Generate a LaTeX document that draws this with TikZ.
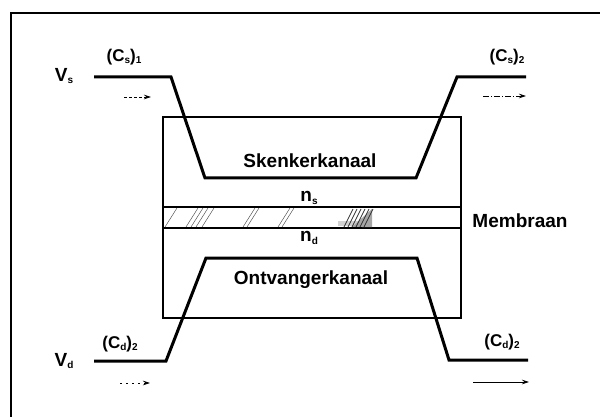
\documentclass[tikz,border=0pt]{standalone}
\usepackage{fontspec}
\setmainfont{Liberation Sans}
\usetikzlibrary{arrows.meta}
\newcommand\lowsub[1]{\raisebox{-0.12em}{\fontsize{10}{10}\selectfont #1}}
\tikzset{
  lbl/.style={inner sep=0pt, font=\bfseries\fontsize{19}{21}\selectfont},
  small/.style={inner sep=0pt, font=\bfseries\fontsize{17}{19}\selectfont},
  conc/.style={line width=3pt, line join=miter},
  box/.style={line width=1.4pt},
  hatch/.style={line width=0.5pt, gray!70!black},
  flow/.style={line width=0.7pt, -{Stealth[length=7pt,width=4.5pt]}},
}
\begin{document}
\begin{tikzpicture}[x=1pt,y=-1pt]
\useasboundingbox (0,0) rectangle (600,417);
% outer frame (only top and left edges inside the page)
\draw[line width=2.4pt] (11,420) -- (11,13) -- (603,13);

% channel block with membrane strip
\draw[box] (163,117) rectangle (461,318);
\draw[box] (163,207) -- (461,207);
\draw[box] (163,228) -- (461,228);
% sparse membrane hatching
\foreach \a in {165,186,191,196,202,243,247,278,282}
  \draw[hatch] (\a,227) -- (\a+12,208);
\fill[gray!35] (338,221) -- (372,221) -- (372,226) -- (338,226) -- cycle;
\fill[gray!70] (352,227) -- (372,209) -- (372,227) -- cycle;
\foreach \a in {344,348,352,356,360,364}
  \draw[hatch, line width=0.8pt, gray!40!black] (\a,227) -- (\a+9,209);
\draw[line width=2pt] (345,228) -- (362,228);

% concentration profiles
\coordinate (s0) at (94,77);   \coordinate (s1) at (171,77);
\coordinate (s2) at (205,178); \coordinate (s3) at (416,178);
\coordinate (s4) at (457,77);  \coordinate (s5) at (526,77);
\draw[conc] (s0) -- (s1) -- (s2) -- (s3) -- (s4) -- (s5);

\coordinate (d0) at (94,361);  \coordinate (d1) at (166,361);
\coordinate (d2) at (206,258); \coordinate (d3) at (417,258);
\coordinate (d4) at (449,360); \coordinate (d5) at (528,360);
\draw[conc] (d0) -- (d1) -- (d2) -- (d3) -- (d4) -- (d5);

% flow direction arrows
\coordinate (fa0) at (124,97);  \coordinate (fa1) at (151,97);
\coordinate (fb0) at (483,96);  \coordinate (fb1) at (526,96);
\coordinate (fc0) at (120,383); \coordinate (fc1) at (150,383);
\coordinate (fd0) at (473,382); \coordinate (fd1) at (529,382);
\draw[flow, dash pattern=on 3pt off 2pt] (fa0) -- (fa1);
\draw[flow, dash pattern=on 6pt off 2pt on 1pt off 2pt] (fb0) -- (fb1);
\draw[flow, dash pattern=on 2pt off 4pt] (fc0) -- (fc1);
\draw[flow] (fd0) -- (fd1);

% labels
\node[lbl] (vs) at (64,76) {V\lowsub{s}};
\node[lbl] (vd) at (64,361) {V\lowsub{d}};
\node[small] (cs1) at (124,57) {(C\lowsub{s})\lowsub{1}};
\node[small] (cs2) at (507,57) {(C\lowsub{s})\lowsub{2}};
\node[small] (cd2l) at (120,344) {(C\lowsub{d})\lowsub{2}};
\node[small] (cd2r) at (502,342) {(C\lowsub{d})\lowsub{2}};
\node[lbl] (sk) at (310,161) {Skenkerkanaal};
\node[lbl] (ont) at (311,280) {Ontvangerkanaal};
\node[lbl] (ns) at (309,198) {n\lowsub{s}};
\node[lbl] (nd) at (309,238) {n\lowsub{d}};
\node[lbl] (mem) at (520,221) {Membraan};
\end{tikzpicture}
\end{document}
